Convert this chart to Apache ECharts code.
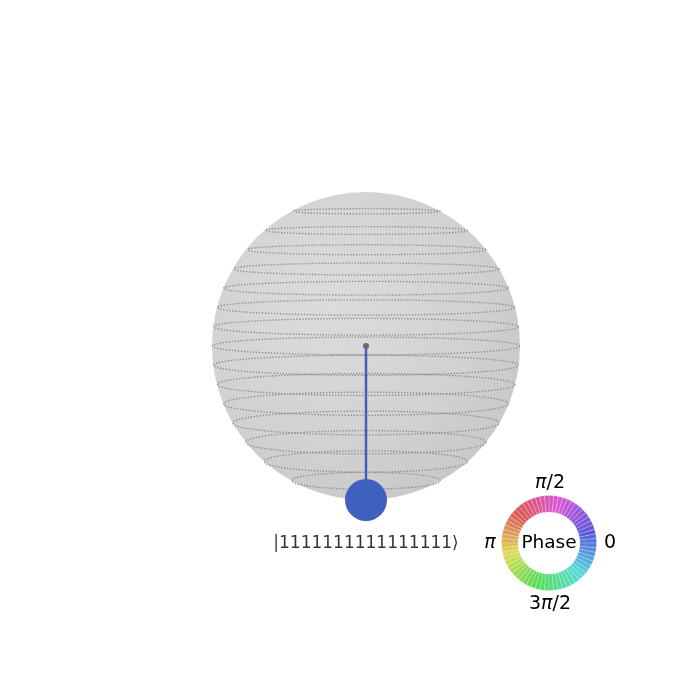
<!DOCTYPE html>
<html>
<head>
<meta charset="utf-8">
<script src="https://cdn.jsdelivr.net/npm/echarts@6/dist/echarts.min.js"></script>
<style>html,body{margin:0;padding:0;background:#fff;}#c{width:700px;height:700px;}</style>
</head>
<body>
<div id="c"></div>
<script>
// ---- data ----
const numQubits = 16;
const stateLabels = ['|1111111111111111\u27E9'];
const stateWeights = [16];        // number of 1s in each basis state
const stateProbabilities = [1.0];
const statePhases = [0];          // radians
const phaseTickLabels = ['0', 'π/2', 'π', '3π/2'];
const phaseWheelSegments = 64;

// ---- helpers ----
function hslToHex(h, s, l) {
  h = ((h % 360) + 360) % 360;
  const c = (1 - Math.abs(2 * l - 1)) * s;
  const x = c * (1 - Math.abs((h / 60) % 2 - 1));
  const m = l - c / 2;
  let r = 0, g = 0, b = 0;
  if (h < 60) { r = c; g = x; } else if (h < 120) { r = x; g = c; }
  else if (h < 180) { g = c; b = x; } else if (h < 240) { g = x; b = c; }
  else if (h < 300) { r = x; b = c; } else { r = c; b = x; }
  const f = v => Math.round((v + m) * 255).toString(16).padStart(2, '0');
  return '#' + f(r) + f(g) + f(b);
}
function phaseHue(phase) { return (phase + Math.PI * 5 / 4) / (2 * Math.PI) * 360; }

// ring tilt (apparent flattening) depends on height
function tilt(z) { return z >= 0 ? 0.058 - 0.026 * z : 0.058 - 0.062 * z; }

// latitude rings for each Hamming weight
const ringSeries = [];
for (let w = 1; w < numQubits; w++) {
  const z = 1 - 2 * w / numQubits;
  const r = Math.sqrt(1 - z * z);
  const k = tilt(z);
  const pts = [];
  for (let i = 0; i <= 160; i++) {
    const t = i / 160 * 2 * Math.PI;
    pts.push([r * Math.cos(t), z + k * r * Math.sin(t)]);
  }
  ringSeries.push({
    type: 'line', data: pts, symbol: 'none', silent: true, z: 3,
    lineStyle: { color: '#8c8c8c', width: 1.4, type: [1.3, 1.7] },
    animation: false
  });
}

// state points on sphere
const statePoints = stateWeights.map((w, i) => {
  const z = 1 - 2 * w / numQubits;
  return { value: [0, z], prob: stateProbabilities[i], phase: statePhases[i], label: stateLabels[i] };
});

const stemSeries = statePoints.map(p => ({
  type: 'line', symbol: 'none', z: 5, animation: false,
  data: [[0, 0], p.value],
  lineStyle: { color: hslToHex(phaseHue(p.phase), 0.5, 0.5), width: 2.5, opacity: 1 }
}));

const wheelData = [];
for (let i = 0; i < phaseWheelSegments; i++) {
  const ph = (i + 0.5) / phaseWheelSegments * 2 * Math.PI;
  wheelData.push({ value: 1, itemStyle: { color: hslToHex(phaseHue(ph), 0.65, 0.6) } });
}

const U = 154;
const cx = 366, cy = 346;

const chart = echarts.init(document.getElementById('c'));
const tickPos = [[610, 543], [550, 483], [490, 543], [550, 604]];
chart.setOption({
  animation: false,
  backgroundColor: '#ffffff',
  grid: { left: 0, right: 0, top: 0, bottom: 0 },
  xAxis: { type: 'value', min: -cx / U, max: (700 - cx) / U, show: false },
  yAxis: { type: 'value', min: -(700 - cy) / U, max: cy / U, show: false },
  series: [
    {
      type: 'custom', z: 1, silent: true, data: [[0, 0]],
      renderItem: function (params, api) {
        const c = api.coord([0, 0]);
        const s = api.size([1, 1]);
        return {
          type: 'circle',
          shape: { cx: c[0], cy: c[1], r: s[0] },
          style: {
            fill: new echarts.graphic.RadialGradient(0.38, 0.36, 0.75, [
              { offset: 0, color: '#dcdcdc' },
              { offset: 0.6, color: '#d2d2d2' },
              { offset: 1, color: '#c6c6c6' }
            ])
          }
        };
      }
    },
    ...ringSeries,
    ...stemSeries,
    {
      type: 'scatter', z: 6, animation: false,
      data: statePoints.map(p => ({
        value: p.value,
        itemStyle: { color: hslToHex(phaseHue(p.phase), 0.5, 0.5), opacity: 1 }
      })),
      symbolSize: 42
    },
    {
      type: 'scatter', z: 7, animation: false, silent: true,
      data: [[0, 0]], symbolSize: 6, itemStyle: { color: '#6a6a6a', opacity: 1 }
    },
    {
      type: 'scatter', z: 7, animation: false, silent: true,
      data: statePoints.map(p => ({ value: [0, -(544 - cy) / U], name: p.label })),
      symbolSize: 0,
      label: {
        show: true, position: 'inside', formatter: d => d.name,
        fontFamily: 'DejaVu Sans', fontSize: 17, color: '#000'
      }
    },
    {
      type: 'pie', z: 8, silent: true, animation: false,
      center: [549, 543], radius: [31, 47.5],
      startAngle: 0, clockwise: false,
      label: { show: false }, labelLine: { show: false },
      itemStyle: { borderColor: 'rgba(255,255,255,0.35)', borderWidth: 0.6 },
      data: wheelData
    }
  ],
  graphic: [
    { type: 'text', position: [549, 543], style: { text: 'Phase', align: 'center', verticalAlign: 'middle', font: '18.5px "DejaVu Sans"', fill: '#000' } },
    ...phaseTickLabels.map((t, i) => ({
      type: 'text', position: tickPos[i],
      style: {
        text: t.replace('π', '{i|π}'),
        align: 'center', verticalAlign: 'middle',
        font: '19px "DejaVu Sans"', fill: '#000',
        rich: { i: { fontStyle: 'italic', fontFamily: 'DejaVu Sans', fontSize: 19, fill: '#000' } }
      }
    }))
  ]
});
</script>
</body>
</html>
